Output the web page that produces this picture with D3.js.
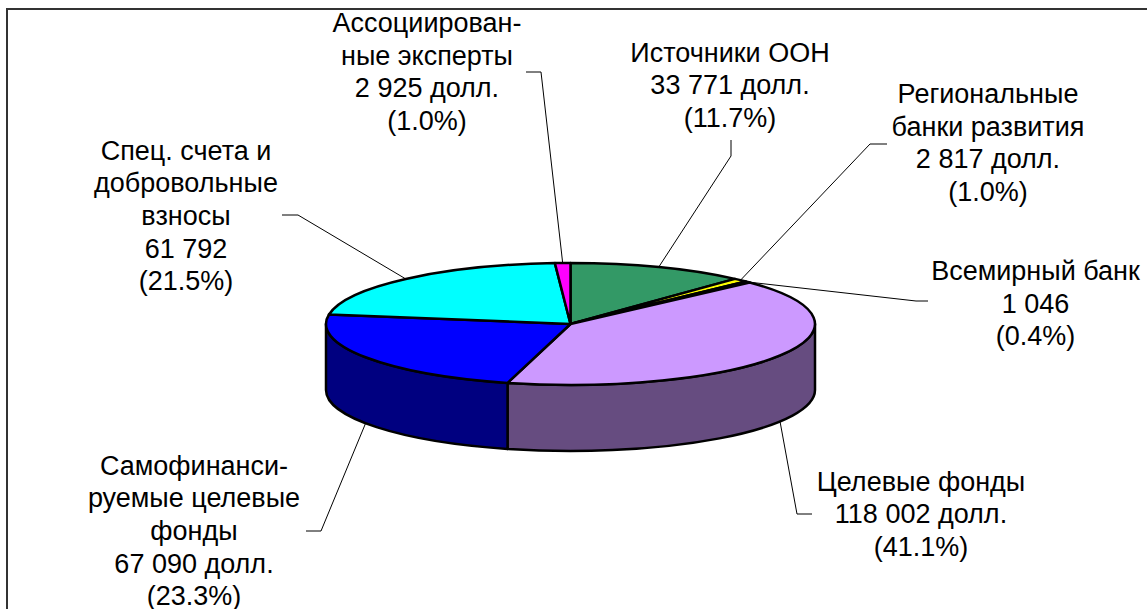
<!DOCTYPE html>
<html>
<head>
<meta charset="utf-8">
<script src="https://cdnjs.cloudflare.com/ajax/libs/d3/7.8.5/d3.min.js"></script>
<style>
  html, body { margin: 0; padding: 0; background: #fff; }
  svg { display: block; }
  text { font-family: "Liberation Sans", Arial, sans-serif; font-size: 27px; fill: #000; }
</style>
</head>
<body>
<svg id="chart" width="1147" height="609"></svg>
<script>
// Slices, clockwise from 12 o'clock
var names = ["Источники ООН", "Региональные банки развития", "Всемирный банк", "Целевые фонды",
  "Самофинансируемые целевые фонды", "Спец. счета и добровольные взносы", "Ассоциированные эксперты"];
var values = [33771, 2817, 1046, 118002, 67090, 61792, 2925];
var topColors = ["#339966", "#ffff00", "#000000", "#cc99ff", "#0000ff", "#00ffff", "#ff00ff"];
var sideColors = ["#1a4d33", "#808000", "#000000", "#664c80", "#000080", "#008080", "#800080"];

var labelLines = [
  ["Источники ООН", "33 771 долл.", "(11.7%)"],
  ["Региональные", "банки развития", "2 817 долл.", "(1.0%)"],
  ["Всемирный банк", "1 046", "(0.4%)"],
  ["Целевые фонды", "118 002 долл.", "(41.1%)"],
  ["Самофинанси-", "руемые целевые", "фонды", "67 090 долл.", "(23.3%)"],
  ["Спец. счета и", "добровольные", "взносы", "61 792", "(21.5%)"],
  ["Ассоциирован-", "ные эксперты", "2 925 долл.", "(1.0%)"]
];

// Label placement: text centre, first baseline, leader elbow and leader end
var labelX = [730, 988, 1035.5, 921, 194, 186, 427];
var labelY = [61.5, 103, 280, 490.5, 474.5, 159.5, 32];
var elbows = [[731, 156], [870, 144], [916, 301], [797, 514], [321, 531], [298, 215], [541, 72]];
var leaderEnds = [[731, 140], [887, 144], [928, 301], [812, 514], [306, 531], [282, 215], [526, 72]];

var lineStep = 32.7;
var cx = 570.5, cy = 324, rx = 244.5, ry = 61, depth = 66;

var svg = d3.select("#chart");

// Only top and left frame edges fall inside the picture
svg.append("path")
  .attr("d", "M7,609V9H1147")
  .attr("fill", "none")
  .attr("stroke", "#333")
  .attr("stroke-width", 2);

var arcs = d3.pie().sort(null)(values);

function px(a) { return cx + rx * Math.sin(a); }
function py(a) { return cy - ry * Math.cos(a); }

function topPath(d) {
  var large = d.endAngle - d.startAngle > Math.PI ? 1 : 0;
  return "M" + cx + "," + cy + "L" + px(d.startAngle) + "," + py(d.startAngle) +
    "A" + rx + "," + ry + " 0 " + large + " 1 " + px(d.endAngle) + "," + py(d.endAngle) + "Z";
}

// Wall below the front half of the ellipse only
function sidePath(d) {
  var a0 = Math.max(d.startAngle, Math.PI / 2);
  var a1 = Math.min(d.endAngle, Math.PI * 1.5);
  if (a1 <= a0) return null;
  return "M" + px(a0) + "," + py(a0) +
    "A" + rx + "," + ry + " 0 0 1 " + px(a1) + "," + py(a1) +
    "V" + (py(a1) + depth) +
    "A" + rx + "," + ry + " 0 0 0 " + px(a0) + "," + (py(a0) + depth) + "Z";
}

svg.append("g").selectAll("path")
  .data(arcs.filter(function(d) { return sidePath(d) !== null; }))
  .enter().append("path")
    .attr("d", sidePath)
    .attr("fill", function(d) { return sideColors[d.index]; })
    .attr("stroke", "#000")
    .attr("stroke-width", 2.5)
    .attr("stroke-linejoin", "round");

svg.append("g").selectAll("path")
  .data(arcs)
  .enter().append("path")
    .attr("d", topPath)
    .attr("fill", function(d) { return topColors[d.index]; })
    .attr("stroke", "#000")
    .attr("stroke-width", 2.5)
    .attr("stroke-linejoin", "round");

// Leader lines start on the slice's middle angle, on the wall's lower edge for front slices
svg.append("g").selectAll("path")
  .data(arcs)
  .enter().append("path")
    .attr("d", function(d) {
      var a = (d.startAngle + d.endAngle) / 2;
      var y0 = py(a) + (Math.cos(a) < 0 ? depth : 0);
      return d3.line()([[px(a), y0], elbows[d.index], leaderEnds[d.index]]);
    })
    .attr("fill", "none")
    .attr("stroke", "#000")
    .attr("stroke-width", 1);

var labels = svg.append("g").selectAll("text")
  .data(arcs)
  .enter().append("text")
    .attr("text-anchor", "middle")
    .attr("y", function(d) { return labelY[d.index]; });

labels.selectAll("tspan")
  .data(function(d) {
    return labelLines[d.index].map(function(t, i) { return { t: t, i: i, slice: d.index }; });
  })
  .enter().append("tspan")
    .attr("x", function(d) { return labelX[d.slice]; })
    .attr("y", function(d) { return labelY[d.slice] + d.i * lineStep; })
    .text(function(d) { return d.t; });
</script>
</body>
</html>
